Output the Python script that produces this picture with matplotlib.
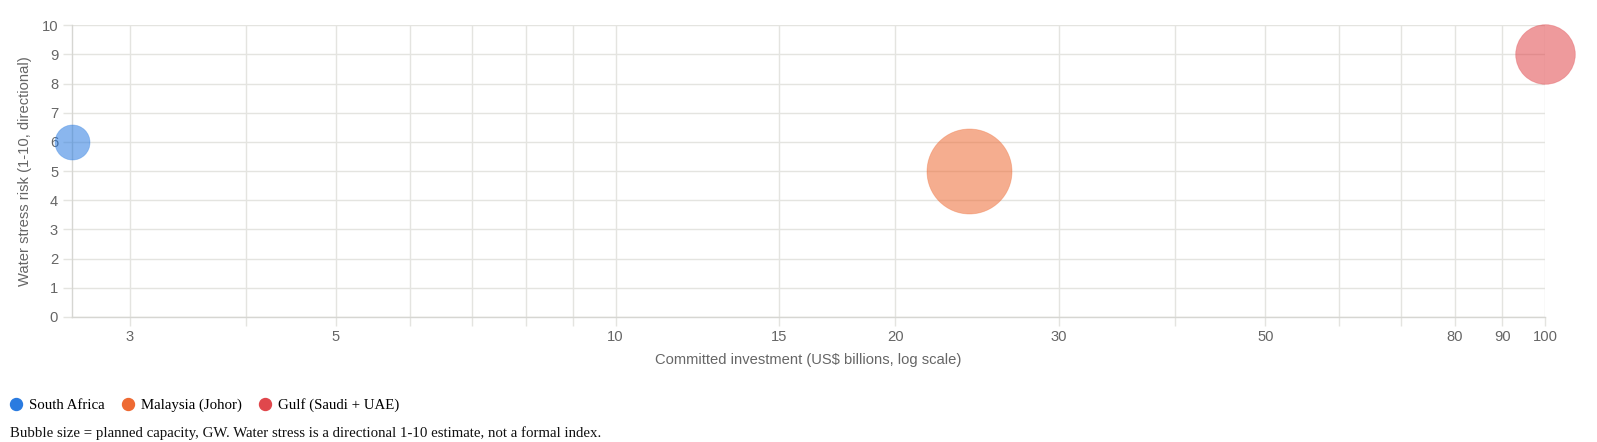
import matplotlib
matplotlib.use('Agg')
from matplotlib import pyplot as plt
from matplotlib.lines import Line2D
from matplotlib.colors import to_rgba

# data
regions = ['South Africa', 'Malaysia (Johor)', 'Gulf (Saudi + UAE)']
investment_bn = [2.6, 24, 100]
water_stress = [6, 5, 9]
capacity_gw = [1.0, 5.9, 2.9]

x_ticks = [3, 4, 5, 6, 7, 8, 9, 10, 15, 20, 30, 40, 50, 60, 70, 80, 90, 100]
x_labels = ['3', '', '5', '', '', '', '', '10', '15', '20', '30', '', '50', '', '', '80', '90', '100']

base_colors = ['#2a7be0', '#ee6a33', '#e0474c']

grid_c = '#e4e4e0'
text_c = '#666666'
fs = 10.6

W, H = 1597, 442
fig = plt.figure(figsize=(W / 100, H / 100), dpi=100)
ax = fig.add_axes([72 / W, 1 - 317 / H, (1545 - 72) / W, (317 - 25.3) / H])

# bubble radius in px -> scatter size in points^2
radius_px = [17.5 * g ** 0.5 for g in capacity_gw]
sizes = [(2 * r * 0.72) ** 2 for r in radius_px]

for i in range(len(regions)):
    ax.scatter(investment_bn[i], water_stress[i], s=sizes[i],
               facecolors=[to_rgba(base_colors[i], 0.55)],
               edgecolors=[to_rgba(base_colors[i], 0.35)], linewidths=0.6,
               zorder=3, clip_on=False)

ax.set_xscale('log')
ax.set_xlim(min(investment_bn), 100)
ax.set_ylim(0, 10)
ax.set_xticks(x_ticks)
ax.set_xticklabels(x_labels)
ax.minorticks_off()
ax.set_yticks(range(0, 11))

ax.grid(True, color=grid_c, linewidth=1, zorder=0)
ax.set_axisbelow(True)
for side in ['top', 'right']:
    ax.spines[side].set_visible(False)
for side in ['left', 'bottom']:
    ax.spines[side].set_color('#d6d6d2')
    ax.spines[side].set_linewidth(1)

ax.tick_params(axis='both', length=6.5, width=1, color=grid_c, labelcolor=text_c,
               labelsize=fs)
ax.tick_params(axis='x', pad=3)
ax.tick_params(axis='y', pad=3.5)
for lab in ax.get_xticklabels() + ax.get_yticklabels():
    lab.set_family('Liberation Sans')

ax.set_xlabel('Committed investment (US$ billions, log scale)', fontsize=fs,
              color=text_c, family='Liberation Sans', labelpad=6)
ax.set_ylabel('Water stress risk (1-10, directional)', fontsize=fs,
              color=text_c, family='Liberation Sans', labelpad=7)

handles = [Line2D([], [], marker='o', linestyle='none', markersize=8.6,
                  markerfacecolor=c, markeredgecolor=c) for c in base_colors]
fig.legend(handles, regions, loc='center left', bbox_to_anchor=(10 / W, 1 - 405 / H),
           ncol=3, frameon=False, borderpad=0, borderaxespad=0, handlelength=0.8,
           handletextpad=0.45, columnspacing=1.2,
           prop={'family': 'Liberation Serif', 'size': 10.7})

fig.text(10 / W, 1 - 432.7 / H,
         'Bubble size = planned capacity, GW. Water stress is a directional 1-10 estimate, not a formal index.',
         family='Liberation Serif', fontsize=10.7, color='#111111', va='center')

fig.savefig('out.png', dpi=100)
